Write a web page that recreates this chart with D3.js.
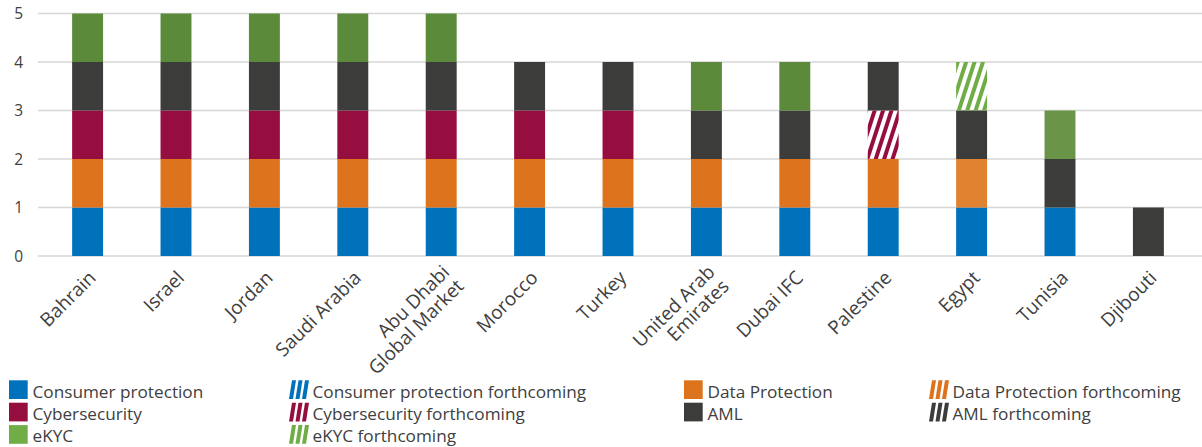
<!DOCTYPE html>
<html><head><meta charset="utf-8">
<script src="https://cdn.jsdelivr.net/npm/d3@7"></script>
<style>
body{margin:0;background:#fff;}
svg{display:block;font-family:"Open Sans",sans-serif;}
</style></head><body>
<svg id="c" width="1202" height="447"></svg>
<script>
const categories = ["Bahrain","Israel","Jordan","Saudi Arabia","Abu Dhabi Global Market","Morocco","Turkey","United Arab Emirates","Dubai IFC","Palestine","Egypt","Tunisia","Djibouti"];
const categoryLines = [["Bahrain"],["Israel"],["Jordan"],["Saudi Arabia"],["Abu Dhabi","Global Market"],["Morocco"],["Turkey"],["United Arab","Emirates"],["Dubai IFC"],["Palestine"],["Egypt"],["Tunisia"],["Djibouti"]];
const consumerProtection     = [1,1,1,1,1,1,1,1,1,1,1,1,0];
const consumerProtectionF    = [0,0,0,0,0,0,0,0,0,0,0,0,0];
const dataProtection         = [1,1,1,1,1,1,1,1,1,1,0,0,0];
const dataProtectionF        = [0,0,0,0,0,0,0,0,0,0,1,0,0];
const cybersecurity          = [1,1,1,1,1,1,1,0,0,0,0,0,0];
const cybersecurityF         = [0,0,0,0,0,0,0,0,0,1,0,0,0];
const aml                    = [1,1,1,1,1,1,1,1,1,1,1,1,1];
const amlF                   = [0,0,0,0,0,0,0,0,0,0,0,0,0];
const ekyc                   = [1,1,1,1,1,0,0,1,1,0,0,1,0];
const ekycF                  = [0,0,0,0,0,0,0,0,0,0,1,0,0];
const yTicks = [0,1,2,3,4,5];

const seriesKeys = ["Consumer protection","Consumer protection forthcoming","Data Protection","Data Protection forthcoming","Cybersecurity","Cybersecurity forthcoming","AML","AML forthcoming","eKYC","eKYC forthcoming"];
const seriesVals = [consumerProtection,consumerProtectionF,dataProtection,dataProtectionF,cybersecurity,cybersecurityF,aml,amlF,ekyc,ekycF];

const rows = categories.map((c,i)=>{const r={cat:c}; seriesKeys.forEach((k,j)=>r[k]=seriesVals[j][i]); return r;});

const baseColor = {"Consumer protection":"#0072BC","Data Protection":"#DD731C","Cybersecurity":"#960E3F","AML":"#3C3C3B","eKYC":"#5A8A3A"};
const hatchColor = {"Consumer protection":"#0072BC","Data Protection":"#E0822F","Cybersecurity":"#960E3F","AML":"#3C3C3B","eKYC":"#70AD47"};
const legendColor = {"Consumer protection":"#0072BC","Data Protection":"#DD731C","Cybersecurity":"#960E3F","AML":"#3C3C3B","eKYC":"#70AD47"};

const svg = d3.select("#c");
const defs = svg.append("defs");
function patId(base){return "hatch-"+base.replace(/\s+/g,"");}
Object.keys(hatchColor).forEach(b=>{
  const p = defs.append("pattern").attr("id",patId(b)).attr("patternUnits","userSpaceOnUse")
    .attr("width",8).attr("height",8).attr("patternTransform","rotate(18)");
  p.append("rect").attr("x",0).attr("y",0).attr("width",4).attr("height",8).attr("fill",hatchColor[b]);
});

const x = d3.scaleBand().domain(categories).range([43.4,1192.6]).paddingInner(0.65).paddingOuter(0.325);
const y = d3.scaleLinear().domain([0,5]).range([256,13.5]);

// gridlines
svg.append("g").selectAll("line").data(yTicks).join("line")
  .attr("x1",38).attr("x2",1202).attr("y1",d=>y(d)).attr("y2",d=>y(d))
  .attr("stroke","#D6D6D6").attr("stroke-width",1.4);

// y labels
svg.append("g").selectAll("text").data(yTicks).join("text")
  .attr("x",23).attr("y",d=>y(d)).attr("dy","0.36em").attr("text-anchor","end")
  .attr("font-size",15.5).attr("fill","#404040").text(d=>d);

const stack = d3.stack().keys(seriesKeys);
const stacked = stack(rows);
function fillFor(key, cat){
  if(key.endsWith("forthcoming")){
    const b = key.replace(" forthcoming","");
    if(b==="Data Protection") return hatchColor[b];
    return "url(#"+patId(b)+")";
  }
  if(key==="eKYC" && cat==="Tunisia") return "#6A9548";
  return baseColor[key];
}
svg.append("g").selectAll("g").data(stacked).join("g")
  .each(function(s){
    d3.select(this).selectAll("rect").data(s.filter(d=>d[1]-d[0]>0)).join("rect")
      .attr("x",d=>x(d.data.cat)).attr("width",x.bandwidth())
      .attr("y",d=>y(d[1])).attr("height",d=>y(d[0])-y(d[1]))
      .attr("fill",d=>fillFor(s.key,d.data.cat));
  });

// x labels
const xl = svg.append("g");
categories.forEach((c,i)=>{
  const cx = x(c)+x.bandwidth()/2;
  const lines = categoryLines[i];
  const t = xl.append("text").attr("transform",`translate(${cx+9.5},${279}) rotate(-45)`)
    .attr("text-anchor","end").attr("font-size",19).attr("fill","#404040");
  lines.forEach((ln,k)=>{
    t.append("tspan").attr("x",lines.length>1?4:0)
      .attr("y",lines.length>1?(k*20-4):0).text(ln);
  });
});

// legend
const legendItems = [
  {k:"Consumer protection",h:false,x:9,r:0},
  {k:"Consumer protection",h:true,x:289,r:0},
  {k:"Data Protection",h:false,x:684,r:0},
  {k:"Data Protection",h:true,x:929,r:0},
  {k:"Cybersecurity",h:false,x:9,r:1},
  {k:"Cybersecurity",h:true,x:289,r:1},
  {k:"AML",h:false,x:684,r:1},
  {k:"AML",h:true,x:929,r:1},
  {k:"eKYC",h:false,x:9,r:2},
  {k:"eKYC",h:true,x:289,r:2}
];
const lg = svg.append("g");
legendItems.forEach(it=>{
  const yy = 380.3 + it.r*22.4;
  if(!it.h){
    lg.append("rect").attr("x",it.x).attr("y",yy).attr("width",18.7).attr("height",18.7).attr("fill",legendColor[it.k]);
  } else {
    const g = lg.append("g");
    [0,6.5,13].forEach(o=>{
      g.append("path").attr("d",`M${it.x+o+3},${yy} L${it.x+o+7},${yy} L${it.x+o+4},${yy+18.7} L${it.x+o},${yy+18.7} Z`).attr("fill",legendColor[it.k]);
    });
  }
  lg.append("text").attr("x",it.x+23.5).attr("y",yy+17.2)
    .attr("font-size",17.2).attr("fill","#404040").text(it.h?it.k+" forthcoming":it.k);
});
</script></body></html>
